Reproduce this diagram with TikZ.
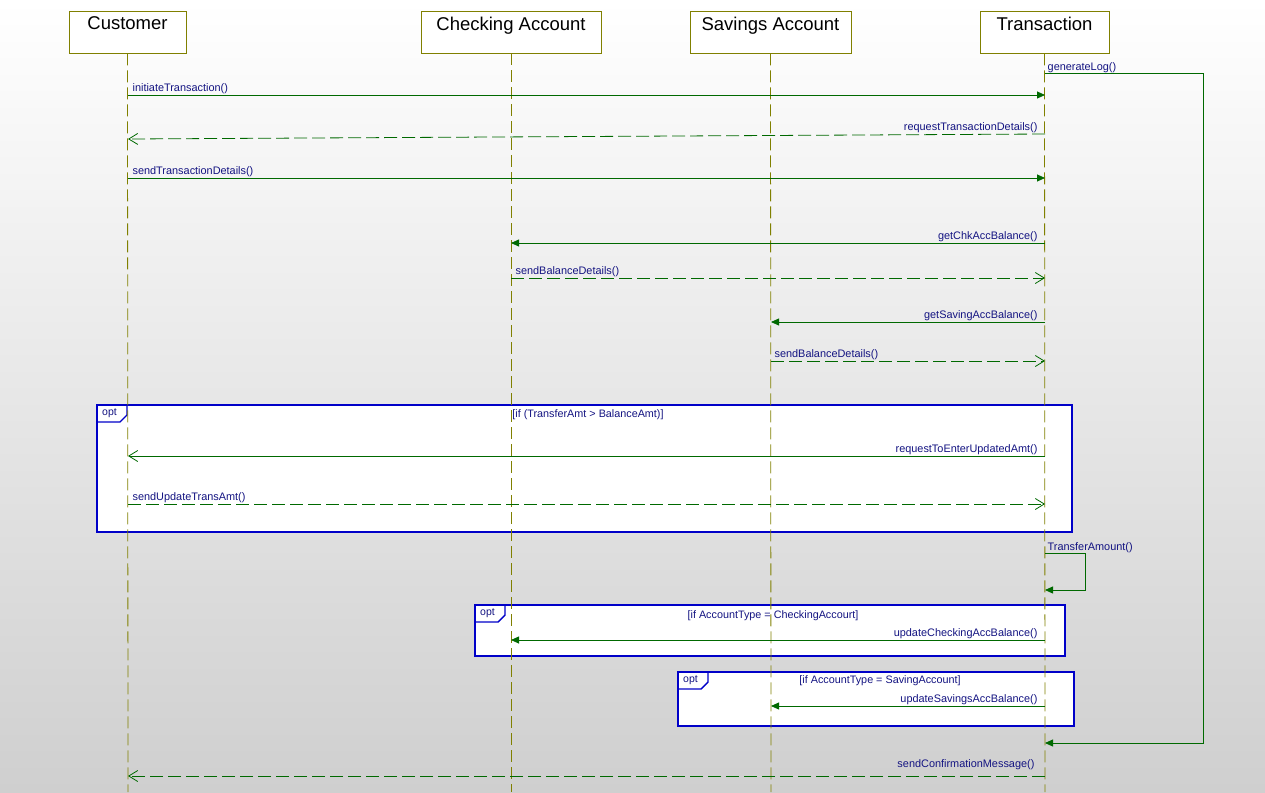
\documentclass[tikz,border=0pt]{standalone}
\usepackage{fontspec}
\setmainfont{Liberation Sans}
\usetikzlibrary{arrows.meta}
\definecolor{navy}{RGB}{20,20,130}
\definecolor{msggreen}{RGB}{0,105,0}
\definecolor{lifeolive}{RGB}{128,128,0}
\definecolor{optblue}{RGB}{0,0,200}
\tikzset{
  head/.style={draw=lifeolive, fill=white, line width=0.9pt, minimum height=42pt, inner sep=0pt},
  headtxt/.style={font=\fontsize{18.5}{20}\selectfont, text=black, anchor=north, inner sep=0pt, yshift=-6pt},
  lifeline/.style={draw=lifeolive, line width=0.8pt, dash pattern=on 12pt off 5pt},
  syncmsg/.style={draw=msggreen, line width=0.8pt, -{Triangle[length=8pt,width=7pt]}},
  openmsg/.style={draw=msggreen, line width=0.8pt, -{Straight Barb[length=9pt,width=11pt,line width=0.8pt]}},
  retmsg/.style={draw=msggreen, line width=0.8pt, dash pattern=on 13pt off 5pt, -{Straight Barb[length=9pt,width=11pt,line width=0.8pt]}},
  lbl/.style={font=\fontsize{10.9}{12}\selectfont, text=navy, inner sep=1.2pt},
  lblL/.style={lbl, anchor=south west},
  lblR/.style={lbl, anchor=south east},
  optbox/.style={draw=optblue, fill=white, line width=1.8pt},
  opttab/.style={draw=optblue, line width=1.4pt},
  guard/.style={font=\fontsize{10.8}{12}\selectfont, text=navy, inner sep=0pt},
  optlbl/.style={font=\fontsize{10.5}{12}\selectfont, text=navy, inner sep=0pt},
}
\begin{document}
\begin{tikzpicture}[x=1pt,y=1pt]
\useasboundingbox (0,0) rectangle (1265,-792);
\shade[top color=white, bottom color={rgb,255:red,207;green,207;blue,207}] (0,0) rectangle (1265,-792);

% lifeline x positions
\coordinate (Lc) at (128,0);
\coordinate (Lk) at (511,0);
\coordinate (Ls) at (771,0);
\coordinate (Lt) at (1045,0);

% opt boxes (drawn under lifelines)
\draw[optbox] (97,-405) rectangle (1072,-532);
\draw[opttab] (97,-405) -- (127,-405) -- (127,-415) -- (120,-422) -- (97,-422);
\node[optlbl, anchor=west] (opt1) at (102,-413) {opt};
\node[guard] (g1) at (588,-415) {[if (TransferAmt > BalanceAmt)]};

\draw[optbox] (475,-605) rectangle (1065,-656);
\draw[opttab] (475,-605) -- (505,-605) -- (505,-615) -- (498,-622) -- (475,-622);
\node[optlbl, anchor=west] (opt2) at (480,-613) {opt};
\node[guard] (g2) at (773,-616) {[if AccountType = CheckingAccourt]};

\draw[optbox] (678,-672) rectangle (1074,-726);
\draw[opttab] (678,-672) -- (708,-672) -- (708,-682) -- (701,-689) -- (678,-689);
\node[optlbl, anchor=west] (opt3) at (683,-680) {opt};
\node[guard] (g3) at (880,-681) {[if AccountType = SavingAccount]};

% heads
\node[head, minimum width=117pt, label={[headtxt]north:Customer}] (cust) at (127.5,-32) {};
\node[head, minimum width=180pt, label={[headtxt]north:Checking Account}] (chk) at (511,-32) {};
\node[head, minimum width=161pt, label={[headtxt]north:Savings Account}] (sav) at (770.5,-32) {};
\node[head, minimum width=129pt, label={[headtxt]north:Transaction}] (trn) at (1044.5,-32) {};

\coordinate (ec) at (128,-792);
\coordinate (ek) at (511,-792);
\coordinate (es) at (771,-792);
\coordinate (et) at (1045,-792);
\draw[lifeline] (cust.south) -- (ec);
\draw[lifeline] (chk.south) -- (ek);
\draw[lifeline] (sav.south) -- (es);
\draw[lifeline] (trn.south) -- (et);

% generateLog self message
\coordinate (gl1) at (1203,-73);
\coordinate (gl2) at (1203,-743);
\draw[syncmsg] (Lt|-0,-73) -- (gl1) -- (gl2) -- (Lt|-0,-743);
\node[lblL, inner sep=0.5pt] (glt) at (1047,-73) {generateLog()};

% messages
\draw[syncmsg] (Lc|-0,-95) -- node[pos=0, lblL, xshift=3pt]{initiateTransaction()} (Lt|-0,-95);
\draw[retmsg] (Lt|-0,-134) -- node[pos=0, lblR, xshift=-6pt]{requestTransactionDetails()} (Lc|-0,-139);
\draw[syncmsg] (Lc|-0,-178) -- node[pos=0, lblL, xshift=3pt]{sendTransactionDetails()} (Lt|-0,-178);
\draw[syncmsg] (Lt|-0,-243) -- node[pos=0, lblR, xshift=-6pt]{getChkAccBalance()} (Lk|-0,-243);
\draw[retmsg] (Lk|-0,-278) -- node[pos=0, lblL, xshift=3pt]{sendBalanceDetails()} (Lt|-0,-278);
\draw[syncmsg] (Lt|-0,-322) -- node[pos=0, lblR, xshift=-6pt]{getSavingAccBalance()} (Ls|-0,-322);
\draw[retmsg] (Ls|-0,-361) -- node[pos=0, lblL, xshift=2pt]{sendBalanceDetails()} (Lt|-0,-361);
\draw[openmsg] (Lt|-0,-456) -- node[pos=0, lblR, xshift=-6pt]{requestToEnterUpdatedAmt()} (Lc|-0,-456);
\draw[retmsg] (Lc|-0,-504) -- node[pos=0, lblL, xshift=3pt]{sendUpdateTransAmt()} (Lt|-0,-504);

% TransferAmount self message
\coordinate (ta1) at (1085,-553);
\coordinate (ta2) at (1085,-590);
\draw[syncmsg] (Lt|-0,-553) -- (ta1) -- (ta2) -- (Lt|-0,-590);
\node[lblL, inner sep=0.5pt] (tat) at (1047,-553) {TransferAmount()};

\draw[syncmsg] (Lt|-0,-640) -- node[pos=0, lblR, xshift=-6pt]{updateCheckingAccBalance()} (Lk|-0,-640);
\draw[syncmsg] (Lt|-0,-706) -- node[pos=0, lblR, xshift=-6pt]{updateSavingsAccBalance()} (Ls|-0,-706);
\draw[retmsg] (Lt|-0,-776) -- node[pos=0, lblR, xshift=-9pt, yshift=5pt]{sendConfirmationMessage()} (Lc|-0,-776);
\end{tikzpicture}
\end{document}
